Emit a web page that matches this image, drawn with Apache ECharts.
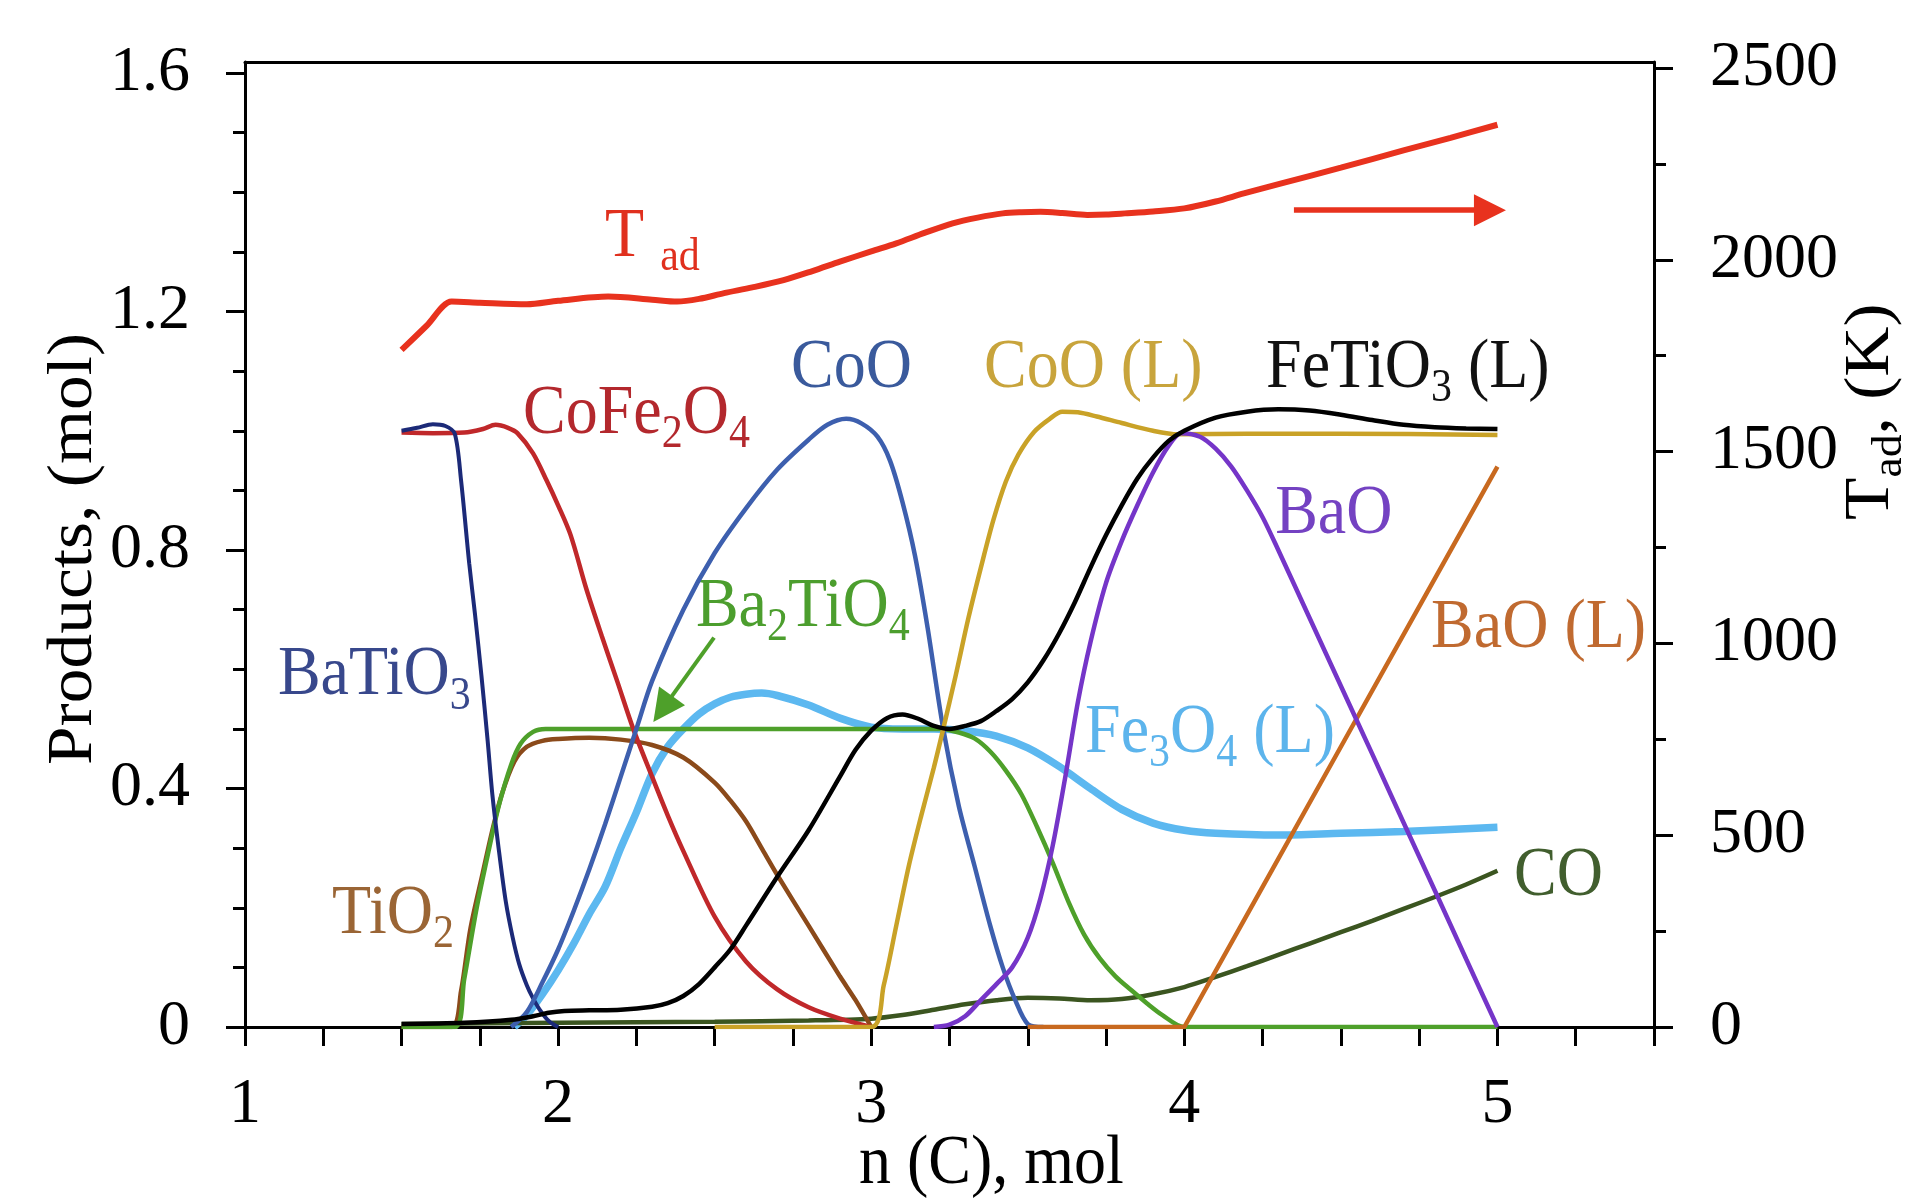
<!DOCTYPE html>
<html><head><meta charset="utf-8">
<script src="https://cdn.jsdelivr.net/npm/echarts@6/dist/echarts.min.js"></script>
<style>html,body{margin:0;padding:0;background:#fff}#c{width:1909px;height:1203px}</style>
</head><body><div id="c"></div>
<script>
const FONT = 'Liberation Serif';

// ---- data (n(C) in mol, products in mol, T_ad in K) ----
const xTicks = [1, 2, 3, 4, 5];
const leftTicks = [0, 0.4, 0.8, 1.2, 1.6];
const rightTicks = [0, 500, 1000, 1500, 2000, 2500];

const tadN = [1.5, 1.58, 1.66, 1.75, 1.9, 2.0, 2.16, 2.3, 2.38, 2.45, 2.53, 2.62, 2.72, 2.81, 2.9, 3.0, 3.08, 3.17, 3.26, 3.34, 3.42, 3.48, 3.54, 3.61, 3.69, 3.75, 3.81, 3.9, 4.0, 4.1, 4.19, 4.31, 4.5, 4.7, 4.85, 5.0];
const tadK = [1765, 1828, 1891, 1888, 1884, 1893, 1904, 1896, 1891, 1898, 1913, 1928, 1947, 1970, 1995, 2022, 2043, 2070, 2095, 2110, 2121, 2124, 2125, 2122, 2117, 2118, 2121, 2126, 2134, 2152, 2173, 2199, 2240, 2285, 2318, 2352];

const batio3N = [1.5, 1.55, 1.6, 1.64, 1.67, 1.69, 1.716, 1.735, 1.755, 1.775, 1.79, 1.81, 1.833, 1.855, 1.876, 1.9, 1.918, 1.94, 1.97, 2.0];
const batio3 = [1.0, 1.005, 1.011, 1.008, 0.995, 0.917, 0.778, 0.69, 0.59, 0.48, 0.39, 0.3, 0.21, 0.15, 0.105, 0.07, 0.05, 0.03, 0.01, 0.0];

const cofeN = [1.5, 1.6, 1.7, 1.76, 1.8, 1.84, 1.87, 1.92, 1.963, 2.0, 2.04, 2.09, 2.14, 2.19, 2.24, 2.3, 2.35, 2.4, 2.5, 2.6, 2.7, 2.8, 2.9, 3.0];
const cofe = [0.997, 0.996, 0.997, 1.003, 1.01, 1.005, 0.996, 0.962, 0.917, 0.875, 0.825, 0.735, 0.655, 0.578, 0.5, 0.42, 0.355, 0.295, 0.185, 0.11, 0.063, 0.033, 0.014, 0.0];

const cooN = [1.85, 1.9, 1.95, 2.0, 2.05, 2.1, 2.15, 2.2, 2.25, 2.3, 2.4, 2.5, 2.6, 2.7, 2.8, 2.86, 2.92, 2.97, 3.02, 3.06, 3.1, 3.14, 3.18, 3.23, 3.28, 3.33, 3.38, 3.42, 3.46, 3.5, 3.55];
const coo = [0, 0.025, 0.075, 0.13, 0.195, 0.265, 0.34, 0.42, 0.5, 0.58, 0.7, 0.795, 0.87, 0.935, 0.985, 1.01, 1.02, 1.012, 0.99, 0.95, 0.88, 0.79, 0.67, 0.5, 0.37, 0.27, 0.17, 0.1, 0.045, 0.005, 0];

const ba2tio4N = [1.5, 1.67, 1.7, 1.74, 1.78, 1.81, 1.85, 1.88, 1.92, 1.96, 2.5, 3.0, 3.22, 3.28, 3.33, 3.38, 3.43, 3.48, 3.53, 3.58, 3.63, 3.68, 3.73, 3.78, 3.83, 3.88, 3.93, 4.0, 5.0];
const ba2tio4 = [0, 0, 0.08, 0.2, 0.3, 0.37, 0.44, 0.475, 0.495, 0.5, 0.5, 0.5, 0.5, 0.494, 0.484, 0.462, 0.43, 0.39, 0.335, 0.275, 0.21, 0.155, 0.115, 0.085, 0.062, 0.04, 0.02, 0, 0];

const tio2N = [1.5, 1.66, 1.69, 1.72, 1.76, 1.79, 1.82, 1.86, 1.9, 1.95, 2.0, 2.1, 2.2, 2.3, 2.4, 2.5, 2.55, 2.6, 2.65, 2.7, 2.8, 2.9, 2.95, 3.0];
const tio2 = [0, 0, 0.06, 0.165, 0.26, 0.33, 0.39, 0.445, 0.47, 0.48, 0.483, 0.485, 0.482, 0.473, 0.452, 0.41, 0.38, 0.345, 0.3, 0.255, 0.17, 0.085, 0.045, 0.0];

const fe3o4N = [1.86, 1.9, 1.95, 2.0, 2.05, 2.1, 2.15, 2.2, 2.25, 2.3, 2.35, 2.4, 2.45, 2.5, 2.55, 2.6, 2.65, 2.7, 2.8, 2.9, 3.0, 3.1, 3.2, 3.3, 3.4, 3.5, 3.6, 3.7, 3.8, 3.9, 4.0, 4.1, 4.3, 4.5, 4.7, 5.0];
const fe3o4 = [0, 0.02, 0.055, 0.095, 0.14, 0.19, 0.235, 0.3, 0.36, 0.425, 0.47, 0.5, 0.525, 0.542, 0.553, 0.558, 0.56, 0.556, 0.54, 0.518, 0.503, 0.5, 0.5, 0.497, 0.488, 0.468, 0.437, 0.4, 0.365, 0.342, 0.33, 0.325, 0.322, 0.325, 0.328, 0.335];

const fetio3N = [1.5, 1.7, 1.85, 1.92, 1.97, 2.02, 2.1, 2.2, 2.3, 2.35, 2.4, 2.45, 2.5, 2.55, 2.6, 2.7, 2.8, 2.9, 2.95, 3.0, 3.05, 3.1, 3.15, 3.2, 3.25, 3.3, 3.35, 3.4, 3.45, 3.5, 3.55, 3.6, 3.65, 3.7, 3.75, 3.8, 3.85, 3.9, 3.95, 4.0, 4.1, 4.2, 4.3, 4.4, 4.5, 4.6, 4.7, 4.8, 4.9, 5.0];
const fetio3 = [0.005, 0.007, 0.012, 0.018, 0.024, 0.027, 0.028, 0.029, 0.034, 0.04, 0.052, 0.072, 0.1, 0.13, 0.17, 0.252, 0.33, 0.42, 0.465, 0.497, 0.518, 0.524, 0.517, 0.505, 0.5, 0.505, 0.513, 0.53, 0.55, 0.578, 0.615, 0.66, 0.712, 0.77, 0.825, 0.875, 0.92, 0.955, 0.983, 1.0, 1.022, 1.032, 1.036, 1.034, 1.027, 1.018, 1.01, 1.006, 1.004, 1.003];

const cooLN = [2.5, 3.0, 3.04, 3.08, 3.12, 3.16, 3.2, 3.23, 3.27, 3.31, 3.35, 3.39, 3.43, 3.47, 3.52, 3.57, 3.61, 3.66, 3.72, 3.8, 3.9, 3.98, 4.2, 4.5, 5.0];
const cooL = [0, 0, 0.07, 0.17, 0.27, 0.355, 0.435, 0.5, 0.59, 0.685, 0.77, 0.85, 0.915, 0.96, 0.998, 1.02, 1.032, 1.031, 1.024, 1.013, 1.0, 0.994, 0.995, 0.995, 0.993];

const baoN = [3.2, 3.25, 3.3, 3.35, 3.4, 3.45, 3.5, 3.54, 3.58, 3.62, 3.66, 3.7, 3.75, 3.8, 3.85, 3.9, 3.95, 3.99, 4.05, 4.1, 4.15, 4.2, 4.25, 4.3, 4.4, 4.5, 4.6, 4.7, 4.8, 4.9, 5.0];
const bao = [0, 0.004, 0.018, 0.045, 0.072, 0.1, 0.15, 0.215, 0.305, 0.42, 0.545, 0.645, 0.745, 0.815, 0.875, 0.93, 0.975, 0.996, 0.99, 0.97, 0.94, 0.9, 0.855, 0.8, 0.686, 0.572, 0.458, 0.343, 0.229, 0.114, 0.0];

const baoLN = [3.5, 4.0, 4.25, 4.5, 4.75, 5.0];
const baoL = [0, 0, 0.235, 0.47, 0.705, 0.94];

const coN = [1.5, 2.0, 2.5, 2.8, 3.0, 3.1, 3.2, 3.3, 3.4, 3.5, 3.6, 3.7, 3.8, 3.9, 4.0, 4.1, 4.2, 4.3, 4.4, 4.5, 4.6, 4.7, 4.8, 4.9, 5.0];
const co = [0.005, 0.007, 0.009, 0.011, 0.014, 0.02, 0.029, 0.038, 0.045, 0.049, 0.048, 0.045, 0.047, 0.055, 0.067, 0.084, 0.102, 0.121, 0.14, 0.159, 0.178, 0.198, 0.218, 0.239, 0.262];

// ---- layout constants ----
const G = {left: 245, right: 255, bottom: 176};
const LEFT_MAX = 1.6185, RIGHT_MAX = 2515.6;

const chart = echarts.init(document.getElementById('c'), null, {renderer: 'canvas'});

function mk(name, xs, ys, color, width, yIdx, smooth) {
  return {
    type: 'line', name, xAxisIndex: 0, yAxisIndex: yIdx || 0,
    data: xs.map((x, i) => [x, ys[i]]),
    showSymbol: false, symbol: 'none', smooth: smooth === undefined ? 0.3 : smooth, silent: true,
    lineStyle: {color, width}, itemStyle: {color}, animation: false
  };
}

const coSeries = mk('CO', coN, co, '#3b5520', 4.5);
coSeries.markLine = {
  silent: true, animation: false, symbol: ['none', 'triangle'], symbolSize: 32,
  label: {show: false},
  data: [
    [{coord: [4.35, 1.37], lineStyle: {color: '#e8321e', width: 5.5, type: 'solid'}, itemStyle: {color: '#e8321e'}},
     {coord: [4.976, 1.37]}],
    [{coord: [2.498, 0.653], lineStyle: {color: '#4ea02a', width: 4, type: 'solid'}, itemStyle: {color: '#4ea02a'}},
     {coord: [2.334, 0.5335]}]
  ]
};

const series = [
  mk('T_ad', tadN, tadK, '#e8321e', 6, 1),
  mk('Fe3O4 (L)', fe3o4N, fe3o4, '#5cb8f0', 7.5),
  coSeries,
  mk('TiO2', tio2N, tio2, '#8b4a1a', 4.5),
  mk('Ba2TiO4', ba2tio4N, ba2tio4, '#4ea02a', 4.5),
  mk('CoFe2O4', cofeN, cofe, '#c0282a', 4.5),
  mk('BaTiO3', batio3N, batio3, '#1c2a78', 4),
  mk('CoO', cooN, coo, '#3d5fae', 4.5),
  mk('CoO (L)', cooLN, cooL, '#c9a227', 4.5),
  mk('BaO (L)', baoLN, baoL, '#c8691f', 4.5, 0, false),
  mk('BaO', baoN, bao, '#7535c8', 4.5),
  mk('FeTiO3 (L)', fetio3N, fetio3, '#000000', 4.5)
];

const blackLine = {show: true, onZero: false, lineStyle: {color: '#000', width: 3}};
const tickStyle = {color: '#000', width: 3};
const labelStyle = {fontFamily: FONT, fontSize: 64, color: '#000'};

const option = {
  animation: false,
  backgroundColor: '#fff',
  textStyle: {fontFamily: FONT},
  grid: [
    {left: G.left, right: G.right, top: 62, bottom: G.bottom},
    {left: G.left, right: G.right, top: 73, bottom: G.bottom},
    {left: G.left, right: G.right, top: 68, bottom: G.bottom}
  ],
  xAxis: [
    {type: 'value', gridIndex: 0, min: 1, max: 5.5, interval: 0.25, position: 'bottom',
     axisLine: blackLine, splitLine: {show: false},
     axisTick: {show: true, length: 19, lineStyle: tickStyle},
     axisLabel: Object.assign({margin: 46, interval: 0,
       formatter: v => (xTicks.indexOf(Math.round(v * 1000) / 1000) >= 0 ? String(v) : '')}, labelStyle)},
    {type: 'value', gridIndex: 0, min: 1, max: 5.5, position: 'top',
     axisLine: blackLine, axisTick: {show: false}, axisLabel: {show: false}, splitLine: {show: false}},
    {type: 'value', gridIndex: 1, min: 1, max: 5.5, show: false},
    {type: 'value', gridIndex: 2, min: 1, max: 5.5, show: false}
  ],
  yAxis: [
    {type: 'value', gridIndex: 0, min: 0, max: LEFT_MAX, position: 'left',
     axisLine: blackLine, axisTick: {show: false}, axisLabel: {show: false}, splitLine: {show: false}},
    {type: 'value', gridIndex: 0, min: 0, max: RIGHT_MAX, position: 'right',
     axisLine: blackLine, axisTick: {show: false}, axisLabel: {show: false}, splitLine: {show: false}},
    {type: 'value', gridIndex: 1, min: leftTicks[0], max: leftTicks[leftTicks.length - 1], interval: 0.4, position: 'left',
     axisLine: {show: false}, splitLine: {show: false},
     axisTick: {show: true, length: 19, lineStyle: tickStyle},
     minorTick: {show: true, splitNumber: 4, length: 12, lineStyle: tickStyle},
     axisLabel: Object.assign({margin: 55, formatter: v => String(v)}, labelStyle)},
    {type: 'value', gridIndex: 2, min: rightTicks[0], max: rightTicks[rightTicks.length - 1], interval: 500, position: 'right',
     axisLine: {show: false}, splitLine: {show: false},
     axisTick: {show: true, length: 19, lineStyle: tickStyle},
     minorTick: {show: true, splitNumber: 2, length: 12, lineStyle: tickStyle},
     axisLabel: Object.assign({margin: 56, formatter: v => String(v)}, labelStyle)}
  ],
  series
};
chart.setOption(option);

// ---- annotation texts (placed in data coordinates) ----
const FS = 64, SUB_FS = 42, SUB_DROP = 12, MID = 0.305, VSTRETCH = 1.1;
const ctx = document.createElement('canvas').getContext('2d');
function w(t, fs) { ctx.font = fs + 'px "' + FONT + '"'; return ctx.measureText(t).width; }

function partsToChildren(parts, color) {
  let cx = 0; const kids = [];
  parts.forEach(p => {
    const sub = p[1] === 1; const fs = sub ? SUB_FS : FS;
    const y = (sub ? SUB_DROP : 0) - MID * fs;
    kids.push({type: 'text', x: cx, y, silent: true,
      style: {text: p[0], fill: color, fontSize: fs, fontFamily: FONT,
              align: 'left', verticalAlign: 'middle', textAlign: 'left', textVerticalAlign: 'middle'}});
    cx += w(p[0], fs);
  });
  return kids;
}

const annotations = [
  {parts: [['T'], [' '], ['ad', 1]], at: [2.150, 1.288], color: '#e0301e'},
  {parts: [['CoFe'], ['2', 1], ['O'], ['4', 1]], at: [1.888, 0.991], color: '#b3282d'},
  {parts: [['CoO']], at: [2.744, 1.068], color: '#3a5a9c'},
  {parts: [['CoO (L)']], at: [3.360, 1.068], color: '#c8a43c'},
  {parts: [['FeTiO'], ['3', 1], [' (L)']], at: [4.261, 1.068], color: '#111111'},
  {parts: [['BaO']], at: [4.290, 0.823], color: '#7442c2'},
  {parts: [['BaO (L)']], at: [4.788, 0.632], color: '#c06a30'},
  {parts: [['Ba'], ['2', 1], ['TiO'], ['4', 1]], at: [2.440, 0.668], color: '#4c9e2e'},
  {parts: [['BaTiO'], ['3', 1]], at: [1.105, 0.553], color: '#38488c'},
  {parts: [['Fe'], ['3', 1], ['O'], ['4', 1], [' (L)']], at: [3.683, 0.456], color: '#5cb4ec'},
  {parts: [['TiO'], ['2', 1]], at: [1.278, 0.153], color: '#9a6535'},
  {parts: [['CO']], at: [5.053, 0.216], color: '#415e2e'}
];

const graphics = annotations.map(a => {
  const p = chart.convertToPixel({xAxisIndex: 0, yAxisIndex: 0}, a.at);
  return {type: 'group', x: p[0], y: p[1], scaleY: VSTRETCH, silent: true, children: partsToChildren(a.parts, a.color)};
});

// axis titles
graphics.push({type: 'group', x: 94, y: 765, rotation: Math.PI / 2, scaleX: 1.085, silent: true,
  children: partsToChildren([['Products, (mol)']], '#000')});
graphics.push({type: 'group', x: 1891, y: 520, rotation: Math.PI / 2, scaleX: 1.085, silent: true,
  children: partsToChildren([['T'], ['ad', 1], [', (K)']], '#000')});
graphics.push({type: 'group', x: 859, y: 1186, scaleY: VSTRETCH, silent: true,
  children: partsToChildren([['n (C), mol']], '#000')});

chart.setOption({graphic: graphics});
</script></body></html>
